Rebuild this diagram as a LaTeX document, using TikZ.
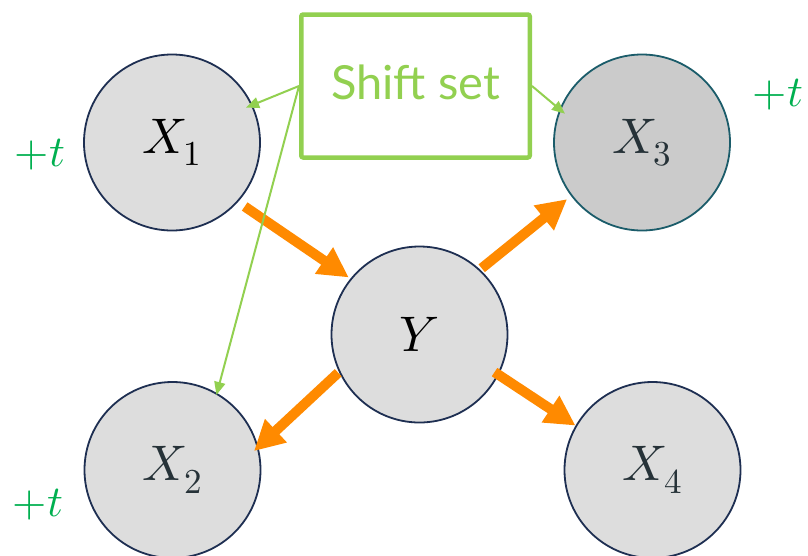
\documentclass[tikz,border=0pt]{standalone}
\usepackage{fontspec}
\usepackage{unicode-math}
\setmathfont{Latin Modern Math}
\newfontfamily\latofont{Lato}
\usetikzlibrary{arrows.meta}
\definecolor{nodefill}{HTML}{DDDDDD}
\definecolor{nodefilldark}{HTML}{CBCBCB}
\definecolor{navy}{HTML}{1E2F52}
\definecolor{tealborder}{HTML}{1B5C6A}
\definecolor{labeldark}{HTML}{263238}
\definecolor{shiftgreen}{HTML}{92D050}
\definecolor{plusgreen}{HTML}{00B050}
\definecolor{arroworange}{HTML}{FF8A00}
\tikzset{
  varnode/.style={circle, draw=navy, fill=nodefill, line width=1.8pt,
    minimum size=176pt, inner sep=0pt, font=\fontsize{50}{60}\selectfont},
  shiftbox/.style={draw=shiftgreen, line width=4.5pt, rounded corners=2pt,
    minimum width=228.5pt, minimum height=143pt, inner sep=0pt,
    text=shiftgreen, font=\latofont\fontsize{47}{56}\selectfont,
    text height=34pt, text depth=8pt},
  plust/.style={text=plusgreen, font=\fontsize{44}{52}\selectfont, inner sep=0pt},
  causal/.style={draw=arroworange, line width=10pt,
    -{Triangle[length=30pt, width=30pt]}},
  shiftarrow/.style={draw=shiftgreen, line width=2pt,
    -{Triangle[length=13pt, width=11pt]}}
}
\begin{document}
\begin{tikzpicture}[x=1pt, y=-1pt]
\useasboundingbox (0,0) rectangle (808,555);
\fill[white] (0,0) rectangle (808,555);

\node[varnode] (X1) at (172,142.5) {$X_1$};
\node[varnode, fill=nodefilldark, draw=tealborder, text=labeldark] (X3) at (642,142.5) {$X_3$};
\node[varnode] (Y) at (419.5,334.5) {$Y$};
\node[varnode, text=labeldark] (X2) at (172.5,470) {$X_2$};
\node[varnode, text=labeldark] (X4) at (652.5,470) {$X_4$};

\node[shiftbox] (shift) at (415.5,86) {Shift set};

\node[plust] (t1) at (40,155) {$+t$};
\node[plust] (t3) at (778,95) {$+t$};
\node[plust] (t2) at (38,505) {$+t$};

\draw[causal, shorten <=8pt, shorten >=2pt] (X1.-42.5) -- (Y.141.9);
\draw[causal, shorten <=2pt, shorten >=5pt] (Y.47.5) -- (X3.-143.6);
\draw[causal, shorten <=1pt, shorten >=-6pt] (Y.-155) -- (X2.15.5);
\draw[causal, shorten <=-5pt, shorten >=0pt] (Y.-27) -- (X4.150.7);

\draw[shiftarrow, shorten >=-7pt] (shift.west) -- (X1.25.6);
\draw[shiftarrow, shorten >=-2pt] (shift.west) -- (X2.60.8);
\draw[shiftarrow, shorten >=-7pt] (shift.east) -- (X3.158);
\end{tikzpicture}
\end{document}
